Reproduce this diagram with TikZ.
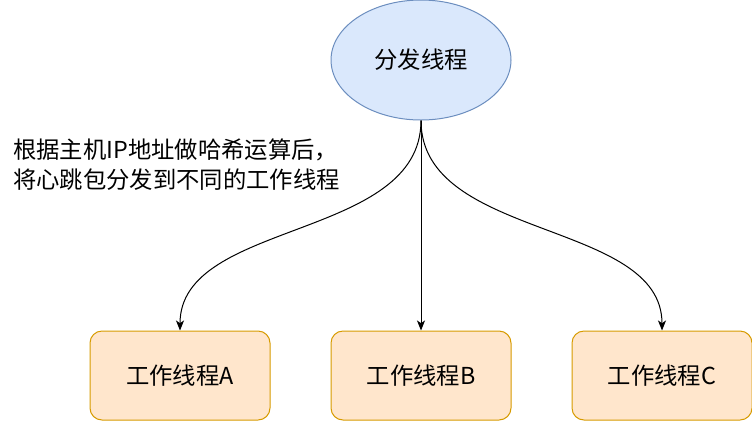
\documentclass[tikz,border=0pt]{standalone}
\usepackage{fontspec}
\setmainfont{Noto Sans CJK SC}
\usepackage{tikz}
\usetikzlibrary{arrows.meta,shapes,positioning}
\definecolor{bluefill}{HTML}{DAE8FC}
\definecolor{blueline}{HTML}{6C8EBF}
\definecolor{orangefill}{HTML}{FFE6CC}
\definecolor{orangeline}{HTML}{D79B00}

\begin{document}
\begin{tikzpicture}[x=0.75pt,y=-0.75pt]
                    \tikzstyle{every node}+=[inner sep=0pt, font=\fontsize{17.5}{22.5}\selectfont]
                    \tikzstyle{dispatcher}=[ellipse, draw=blueline, fill=bluefill, line width=0.75pt, minimum width=135pt, minimum height=90pt]
                    \tikzstyle{worker}=[rectangle, rounded corners=9pt, draw=orangeline, fill=orangefill, line width=0.75pt, minimum width=135pt, minimum height=66.75pt]
                    \tikzstyle{link}=[black, line width=0.75pt, -{Stealth[length=7.5pt,width=6pt,inset=2pt]}]
                    \useasboundingbox (0,0) rectangle (752,422);
                    % dispatching thread
                    \node [dispatcher] (dispatch) at (421,60) {分发线程};
                    % worker threads
                    \node [worker] (workerB) at (421,375.5) {工作线程B};
                    \node [worker, left=45pt of workerB] (workerA) {工作线程A};
                    \node [worker, right=45pt of workerB] (workerC) {工作线程C};
                    % note
                    \node [anchor=west, align=left] (note) at (13,165) {根据主机IP地址做哈希运算后，\\将心跳包分发到不同的工作线程};
                    % links
                    \draw [link] (dispatch.south) .. controls +(0,120) and +(0,-111) .. (workerA.north);
                    \draw [link] (dispatch.south) -- (workerB.north);
                    \draw [link] (dispatch.south) .. controls +(0,120) and +(0,-111) .. (workerC.north);
\end{tikzpicture}
\end{document}
